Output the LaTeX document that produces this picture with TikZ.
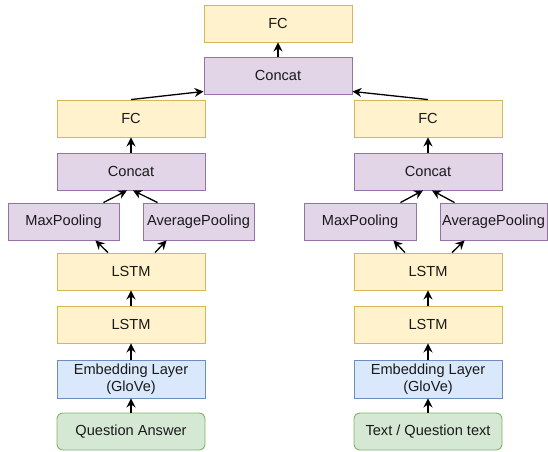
\documentclass[tikz,border=0pt]{standalone}
\usepackage{fontspec}
\setmainfont{Liberation Sans}
\usetikzlibrary{arrows.meta}
\definecolor{ylwF}{HTML}{FFF2CC}\definecolor{ylwD}{HTML}{D6B656}
\definecolor{purF}{HTML}{E1D5E7}\definecolor{purD}{HTML}{9673A6}
\definecolor{bluF}{HTML}{DAE8FC}\definecolor{bluD}{HTML}{6C8EBF}
\definecolor{grnF}{HTML}{D5E8D4}\definecolor{grnD}{HTML}{82B366}
\definecolor{txt}{HTML}{1A1A1A}
\begin{document}
\begin{tikzpicture}[x=1pt,y=-1pt,
  box/.style={draw, line width=0.9pt, minimum width=148pt, minimum height=37pt, inner sep=0pt, font=\fontsize{14.6pt}{16.5pt}\selectfont, text=txt, align=center},
  ylw/.style={box, fill=ylwF, draw=ylwD},
  pur/.style={box, fill=purF, draw=purD},
  pool/.style={pur, minimum width=111pt},
  blu/.style={box, fill=bluF, draw=bluD, minimum height=38pt},
  grn/.style={box, fill=grnF, draw=grnD, rounded corners=6pt},
  arr/.style={-{Stealth[length=9pt,width=9pt,inset=3pt]}, line width=1.3pt, black}]
\useasboundingbox (0,0) rectangle (548,451);
\node[ylw] (fcT) at (278,23.5) {FC};
\node[pur] (catT) at (278,75.5) {Concat};
\node[ylw] (fcL) at (131,118.5) {FC};
\node[ylw] (fcR) at (428,118.5) {FC};
\node[pur] (catL) at (131,171.5) {Concat};
\node[pur] (catR) at (428,171.5) {Concat};
\node[pool] (maxL) at (63.5,221.5) {MaxPooling};
\node[pool] (avgL) at (198.5,221.5) {AveragePooling};
\node[pool, minimum width=112pt] (maxR) at (360,221.5) {MaxPooling};
\node[pool, minimum width=107pt] (avgR) at (493.5,221.5) {AveragePooling};
\node[ylw] (lstmLa) at (131,271.5) {LSTM};
\node[ylw] (lstmRa) at (428,271.5) {LSTM};
\node[ylw] (lstmLb) at (131,324.5) {LSTM};
\node[ylw] (lstmRb) at (428,324.5) {LSTM};
\node[blu] (embL) at (131,379) {Embedding Layer\\(GloVe)};
\node[blu] (embR) at (428,379) {Embedding Layer\\(GloVe)};
\node[grn] (inL) at (131,431.5) {Question Answer};
\node[grn] (inR) at (428,431.5) {Text / Question text};
% vertical arrows
\draw[arr] (catT) -- (fcT);
\draw[arr] (catL) -- (fcL);
\draw[arr] (catR) -- (fcR);
\draw[arr] (lstmLb) -- (lstmLa);
\draw[arr] (lstmRb) -- (lstmRa);
\draw[arr] (embL) -- (lstmLb);
\draw[arr] (embR) -- (lstmRb);
\draw[arr] (inL) -- (embL);
\draw[arr] (inR) -- (embR);
% top merge
\draw[arr] (fcL.north) -- ([yshift=3pt]catT.south west);
\draw[arr] (fcR.north) -- ([yshift=3pt]catT.south east);
% left pooling
\draw[arr] ([xshift=-16pt]maxL.north east) -- ([xshift=-4pt]catL.south);
\draw[arr] ([xshift=15pt]avgL.north west) -- ([xshift=2pt]catL.south);
\draw[arr] ([xshift=-23pt]lstmLa.north) -- ([xshift=-24pt]maxL.south east);
\draw[arr] ([xshift=24pt]lstmLa.north) -- ([xshift=24pt]avgL.south west);
% right pooling
\draw[arr] ([xshift=-16pt]maxR.north east) -- ([xshift=-5pt]catR.south);
\draw[arr] ([xshift=15pt]avgR.north west) -- ([xshift=4pt]catR.south);
\draw[arr] ([xshift=-23pt]lstmRa.north) -- ([xshift=-23pt]maxR.south east);
\draw[arr] ([xshift=24pt]lstmRa.north) -- ([xshift=25pt]avgR.south west);
\end{tikzpicture}
\end{document}
